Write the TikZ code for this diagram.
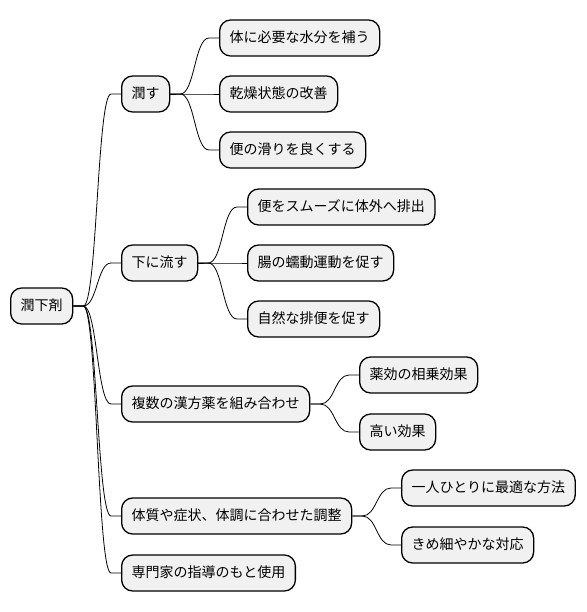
\documentclass[tikz,border=0pt]{standalone}
\usepackage{fontspec}
\setmainfont{Noto Sans CJK JP}
\usetikzlibrary{calc}
\definecolor{boxfill}{HTML}{F1F1F1}
\tikzset{
  mmbox/.style={draw=black, line width=1.3pt, fill=boxfill, rounded corners=11pt,
    minimum height=36pt, inner xsep=10pt, inner ysep=0pt, anchor=west,
    font=\fontsize{14pt}{16pt}\selectfont, text height=11pt, text depth=2pt},
  mmline/.style={draw=black, line width=0.8pt}
}
\newcommand\mmconn[2]{%
  \draw[mmline] let \p1=(#1.east), \p2=(#2.west) in
    (#1.east) -- (\x1+10pt,\y1)
    .. controls ({0.5*(\x1+\x2)},\y1) and ({0.5*(\x1+\x2)},\y2) ..
    (\x2-10pt,\y2) -- (#2.west);}
\begin{document}
\begin{tikzpicture}[x=1pt,y=1pt]
\useasboundingbox (0,0) rectangle (586,-612);
\node[mmbox] (root) at (10,-306) {潤下剤};
\node[mmbox] (a) at (121,-94) {潤す};
\node[mmbox] (b) at (121,-263) {下に流す};
\node[mmbox] (c) at (121,-404) {複数の漢方薬を組み合わせ};
\node[mmbox] (d) at (121,-516) {体質や症状、体調に合わせた調整};
\node[mmbox] (e) at (121,-573) {専門家の指導のもと使用};
\node[mmbox] (a1) at (219,-38) {体に必要な水分を補う};
\node[mmbox] (a2) at (219,-94) {乾燥状態の改善};
\node[mmbox] (a3) at (219,-150) {便の滑りを良くする};
\node[mmbox] (b1) at (247,-207) {便をスムーズに体外へ排出};
\node[mmbox] (b2) at (247,-263) {腸の蠕動運動を促す};
\node[mmbox] (b3) at (247,-319) {自然な排便を促す};
\node[mmbox] (c1) at (359,-375) {薬効の相乗効果};
\node[mmbox] (c2) at (359,-432) {高い効果};
\node[mmbox] (d1) at (401,-488) {一人ひとりに最適な方法};
\node[mmbox] (d2) at (401,-545) {きめ細やかな対応};
\mmconn{root}{a}
\mmconn{root}{b}
\mmconn{root}{c}
\mmconn{root}{d}
\mmconn{root}{e}
\mmconn{a}{a1}
\mmconn{a}{a2}
\mmconn{a}{a3}
\mmconn{b}{b1}
\mmconn{b}{b2}
\mmconn{b}{b3}
\mmconn{c}{c1}
\mmconn{c}{c2}
\mmconn{d}{d1}
\mmconn{d}{d2}
\end{tikzpicture}
\end{document}
